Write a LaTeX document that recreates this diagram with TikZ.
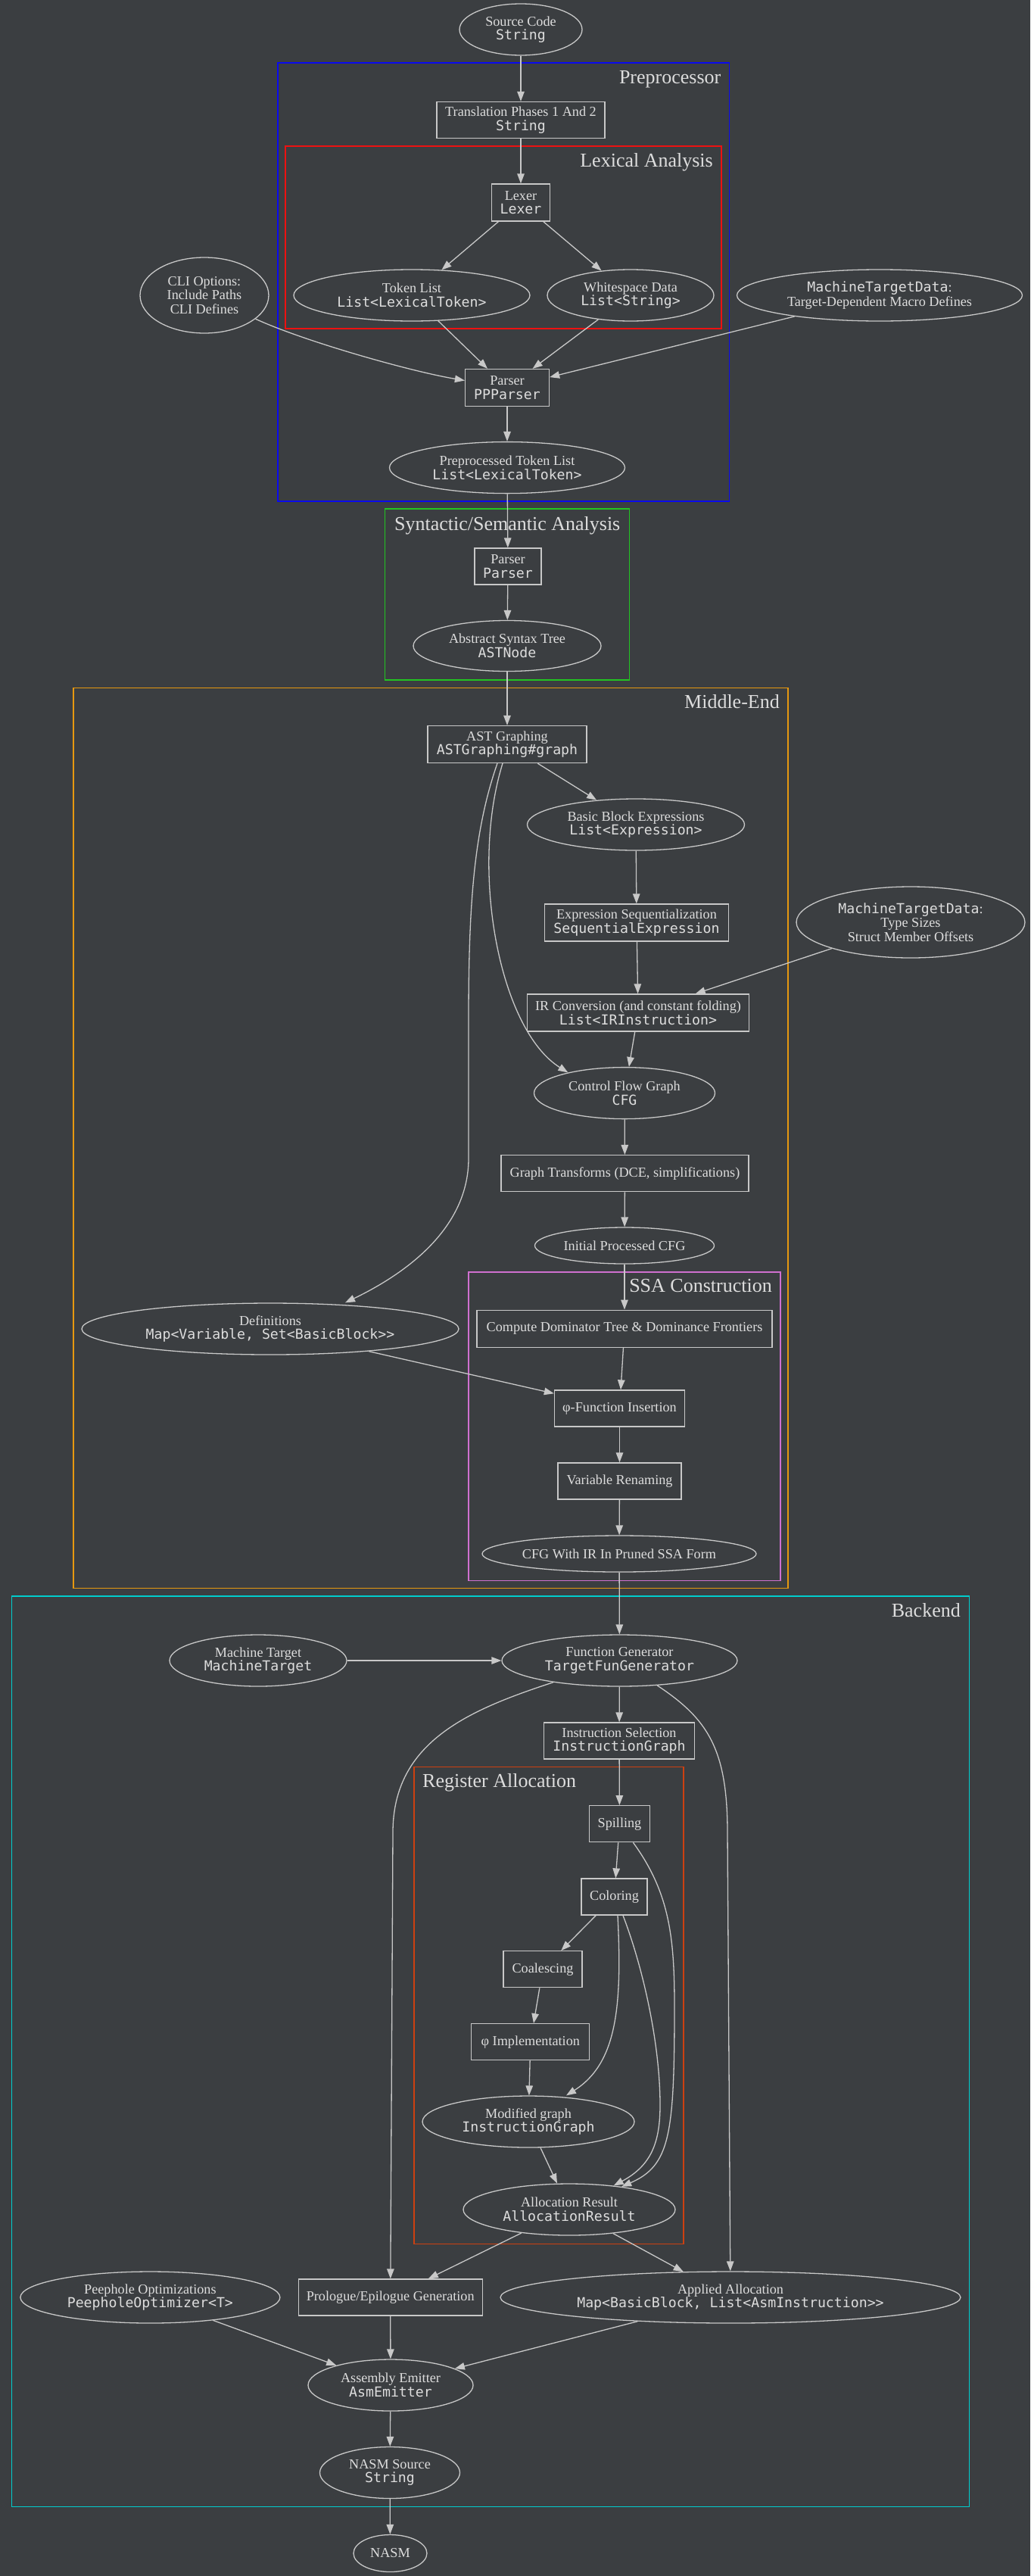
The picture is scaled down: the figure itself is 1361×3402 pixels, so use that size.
\documentclass[tikz,border=0pt]{standalone}
\usepackage{fontspec}
\setmainfont{Liberation Serif}
\setmonofont{DejaVu Sans Mono}
\usepackage{xcolor}
\usetikzlibrary{shapes.geometric,
	arrows.meta,
	calc,
	positioning}
\definecolor{bgdark}{HTML}{3B3E41}
\definecolor{fgline}{HTML}{C8C8C8}
\definecolor{fgtext}{HTML}{DDDDDD}
\definecolor{ppblue}{HTML}{0A0AEE}
\definecolor{lexred}{HTML}{EE1111}
\definecolor{synthgreen}{HTML}{22C522}
\definecolor{midorange}{HTML}{E6980F}
\definecolor{ssapink}{HTML}{D070D0}
\definecolor{backcyan}{HTML}{00CDCD}
\definecolor{regorange}{HTML}{CD4010}

\begin{document}
\begin{tikzpicture}[x=1pt, y=-1pt,
	>={Triangle[length=13pt,width=9.5pt]},
	every node/.style={text=fgtext, font=\fontsize{18.2}{18.5}\selectfont, align=center, inner sep=0pt},
	box/.style={draw=fgline, line width=1.3pt, rectangle},
	oval/.style={draw=fgline, line width=1.3pt, ellipse, inner xsep=-20pt},
	flow/.style={->, draw=fgline, line width=1.3pt},
	cluster/.style={line width=1.7pt},
	clusterlabel/.style={font=\fontsize{26}{28}\selectfont, anchor=base east}]
	\useasboundingbox (0,0) rectangle (1361,3402);
	\fill[bgdark] (0,0) rectangle (1361,3402);

	% clusters
	\draw[cluster, ppblue] (367,83) rectangle (963.5,662);
	\node[clusterlabel] (pplabel) at (952.5,110.4) {Preprocessor};
	\draw[cluster, lexred] (376.7,193) rectangle (953,434);
	\node[clusterlabel] (lexlabel) at (942,220) {Lexical Analysis};
	\draw[cluster, synthgreen] (508.6,672.3) rectangle (831.5,898.2);
	\node[clusterlabel] (synlabel) at (819.5,700.7) {Syntactic/Semantic Analysis};
	\draw[cluster, midorange] (97,908.5) rectangle (1040.7,2097.5);
	\node[clusterlabel] (midlabel) at (1030,935) {Middle-End};
	\draw[cluster, ssapink, line width=1.4pt] (619,1680) rectangle (1031,2087.6);
	\node[clusterlabel] (ssalabel) at (1020,1706.8) {SSA Construction};
	\draw[cluster, backcyan] (15.6,2108.3) rectangle (1280.4,3310.4);
	\node[clusterlabel] (backlabel) at (1269,2135) {Backend};
	\draw[cluster, regorange, line width=1.4pt] (547,2333.7) rectangle (903,2963.3);
	\node[clusterlabel, anchor=base west] (reglabel) at (558,2360) {Register Allocation};

	% preprocessor
	\node[oval, minimum width=162pt, minimum height=68pt] (src) at (688,39) {Source Code\\\texttt{String}};
	\node[box, minimum width=222pt, minimum height=48pt] (trans) at (688,158.5) {Translation Phases 1 And 2\\\texttt{String}};
	\node[box, minimum width=77pt, minimum height=49pt] (lexer) at (688,267.5) {Lexer\\\texttt{Lexer}};
	\node[oval, minimum width=312pt, minimum height=68pt] (toklist) at (544,390) {Token List\\\texttt{List<LexicalToken>}};
	\node[oval, minimum width=220pt, minimum height=68pt] (wsdata) at (833,390) {Whitespace Data\\\texttt{List<String>}};
	\node[oval, minimum width=170pt, minimum height=100pt] (cliopts) at (270,390) {CLI Options:\\Include Paths\\CLI Defines};
	\node[oval, minimum width=377pt, minimum height=68pt] (mtdpre) at (1162,390) {\texttt{MachineTargetData}:\\Target-Dependent Macro Defines};
	\node[box, minimum width=111pt, minimum height=49pt] (ppparser) at (670,512) {Parser\\\texttt{PPParser}};
	\node[oval, minimum width=311pt, minimum height=68pt] (pptoks) at (670,617.6) {Preprocessed Token List\\\texttt{List<LexicalToken>}};

	% syntactic / semantic analysis
	\node[box, minimum width=88pt, minimum height=48pt] (parser) at (671,748) {Parser\\\texttt{Parser}};
	\node[oval, minimum width=248pt, minimum height=67pt] (ast) at (670,853) {Abstract Syntax Tree\\\texttt{ASTNode}};

	% middle-end
	\node[box, minimum width=210pt, minimum height=49pt] (astg) at (670,983) {AST Graphing\\\texttt{ASTGraphing\#graph}};
	\node[oval, minimum width=287pt, minimum height=68pt] (bbexpr) at (840,1089) {Basic Block Expressions\\\texttt{List<Expression>}};
	\node[box, minimum width=243pt, minimum height=49pt] (exprseq) at (841,1218.5) {Expression Sequentialization\\\texttt{SequentialExpression}};
	\node[oval, minimum width=302pt, minimum height=94pt] (mtdmid) at (1203,1218) {\texttt{MachineTargetData}:\\Type Sizes\\Struct Member Offsets};
	\node[box, minimum width=293pt, minimum height=49pt] (irconv) at (843,1337.5) {IR Conversion (and constant folding)\\\texttt{List<IRInstruction>}};
	\node[oval, minimum width=239pt, minimum height=68pt] (cfg) at (825,1443.6) {Control Flow Graph\\\texttt{CFG}};
	\node[box, minimum width=327pt, minimum height=48pt] (gtrans) at (825.5,1549.6) {Graph Transforms (DCE, simplifications)};
	\node[oval, minimum width=237pt, minimum height=48pt] (initcfg) at (825,1645) {Initial Processed CFG};
	\node[box, minimum width=390pt, minimum height=49pt] (domtree) at (825,1754.7) {Compute Dominator Tree \& Dominance Frontiers};
	\node[oval, minimum width=498pt, minimum height=68pt] (defs) at (357,1755) {Definitions\\\texttt{Map<Variable, Set<BasicBlock>{}>}};
	\node[box, minimum width=172pt, minimum height=48pt] (phiins) at (818.5,1860) {φ-Function Insertion};
	\node[box, minimum width=163pt, minimum height=48pt] (varren) at (818.5,1956) {Variable Renaming};
	\node[oval, minimum width=362pt, minimum height=48pt] (ssacfg) at (818,2052) {CFG With IR In Pruned SSA Form};

	% backend
	\node[oval, minimum width=234pt, minimum height=68pt] (mtarget) at (341,2193) {Machine Target\\\texttt{MachineTarget}};
	\node[oval, minimum width=311pt, minimum height=68pt] (fungen) at (818.5,2193) {Function Generator\\\texttt{TargetFunGenerator}};
	\node[box, minimum width=199pt, minimum height=48pt] (instsel) at (818,2299) {Instruction Selection\\\texttt{InstructionGraph}};
	\node[box, minimum width=80pt, minimum height=48pt] (spill) at (818.5,2408.7) {Spilling};
	\node[box, minimum width=87pt, minimum height=48pt] (color) at (811.5,2505) {Coloring};
	\node[box, minimum width=104pt, minimum height=48pt] (coalesce) at (717,2600.7) {Coalescing};
	\node[box, minimum width=156pt, minimum height=48pt] (phiimpl) at (700.8,2696.7) {φ Implementation};
	\node[oval, minimum width=280pt, minimum height=68pt] (modgraph) at (698,2802) {Modified graph\\\texttt{InstructionGraph}};
	\node[oval, minimum width=280pt, minimum height=68pt] (allocres) at (752,2918) {Allocation Result\\\texttt{AllocationResult}};
	\node[oval, minimum width=343pt, minimum height=68pt] (peephole) at (198.4,3034) {Peephole Optimizations\\\texttt{PeepholeOptimizer<T>}};
	\node[box, minimum width=243pt, minimum height=48pt] (prologue) at (515.7,3034) {Prologue/Epilogue Generation};
	\node[oval, minimum width=608pt, minimum height=68pt] (applied) at (965,3034) {Applied Allocation\\\texttt{Map<BasicBlock, List<AsmInstruction>{}>}};
	\node[oval, minimum width=218pt, minimum height=68pt] (emitter) at (516,3150) {Assembly Emitter\\\texttt{AsmEmitter}};
	\node[oval, minimum width=185pt, minimum height=68pt] (nasmsrc) at (515,3265.5) {NASM Source\\\texttt{String}};
	\node[oval, minimum width=97pt, minimum height=49pt] (nasm) at (515.5,3372) {NASM};

	% edges
	\draw[flow] (src) -- (trans);
	\draw[flow] (trans) -- (lexer);
	\draw[flow] (lexer) -- (toklist);
	\draw[flow] (lexer) -- (wsdata);
	\draw[flow] (toklist) -- (ppparser);
	\draw[flow] (wsdata) -- (ppparser);
	\draw[flow] (cliopts) .. controls (400,450) and (540,490) .. (ppparser);
	\draw[flow] (mtdpre) -- (ppparser);
	\draw[flow] (ppparser) -- (pptoks);
	\draw[flow] (pptoks) -- (parser);
	\draw[flow] (parser) -- (ast);
	\draw[flow] (ast) -- (astg);
	\draw[flow] (astg) -- (bbexpr);
	\draw[flow] ([xshift=-6pt]astg.south) .. controls (620,1150) and (660,1360) .. (cfg.160);
	\draw[flow] ([xshift=-13pt]astg.south) .. controls (625,1100) and (619,1200) .. (619,1350) -- (619,1530)
		.. controls (619,1620) and (540,1680) .. ([xshift=99pt]defs.north);
	\draw[flow] (bbexpr) -- (exprseq);
	\draw[flow] (exprseq) -- (irconv);
	\draw[flow] (mtdmid) -- (irconv);
	\draw[flow] (irconv) -- (cfg);
	\draw[flow] (cfg) -- (gtrans);
	\draw[flow] (gtrans) -- (initcfg);
	\draw[flow] (initcfg) -- (domtree);
	\draw[flow] (domtree) -- (phiins);
	\draw[flow] (defs) -- (phiins);
	\draw[flow] (phiins) -- (varren);
	\draw[flow] (varren) -- (ssacfg);
	\draw[flow] (ssacfg) -- (fungen);
	\draw[flow] (mtarget) -- (fungen);
	\draw[flow] (fungen) -- (instsel);
	\draw[flow] (fungen) .. controls (620,2258) and (519,2300) .. (519,2420) -- (prologue);
	\draw[flow] (fungen) .. controls (935,2270) and (961,2310) .. (961,2420) -- (applied);
	\draw[flow] (instsel) -- (spill);
	\draw[flow] (spill) -- (color);
	\draw[flow] (spill) .. controls (885,2500) and (891,2560) .. (891,2650)
		.. controls (891,2820) and (885,2860) .. (allocres);
	\draw[flow] (color) -- (coalesce);
	\draw[flow] ([xshift=4.5pt]color.south) .. controls (822,2650) and (815,2725) .. ([xshift=50pt]modgraph.north);
	\draw[flow] ([xshift=11.5pt]color.south) .. controls (850,2600) and (872,2700) .. (872,2780)
		.. controls (872,2830) and (860,2860) .. (allocres);
	\draw[flow] (coalesce) -- (phiimpl);
	\draw[flow] (phiimpl) -- (modgraph);
	\draw[flow] (modgraph) -- (allocres);
	\draw[flow] (allocres) -- (prologue);
	\draw[flow] (allocres) -- (applied);
	\draw[flow] (peephole) -- (emitter);
	\draw[flow] (prologue) -- (emitter);
	\draw[flow] (applied) -- (emitter);
	\draw[flow] (emitter) -- (nasmsrc);
	\draw[flow] (nasmsrc) -- (nasm);
\end{tikzpicture}
\end{document}
